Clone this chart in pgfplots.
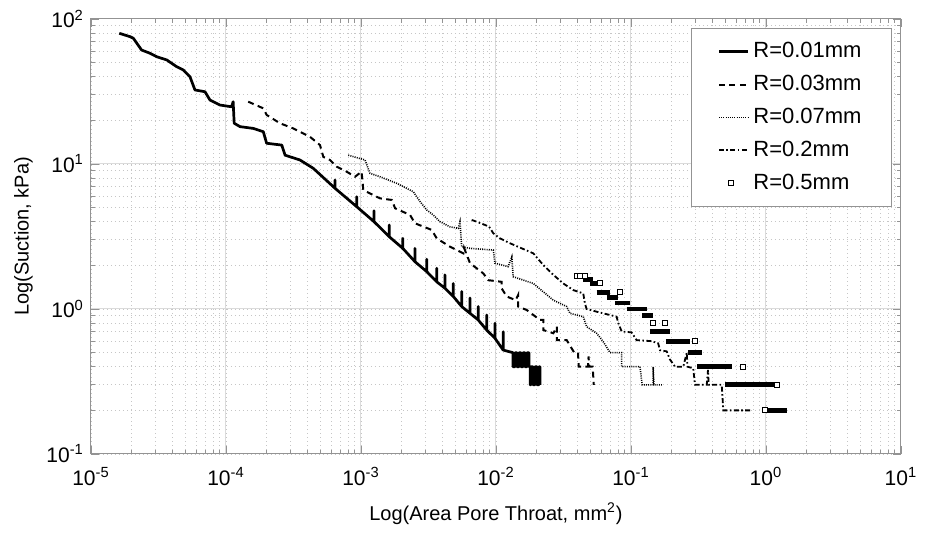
\documentclass[border=0pt]{standalone}
\usepackage{pgfplots}
\pgfplotsset{compat=1.18}
\usepackage{fontspec}
\setmainfont{Liberation Sans}
\usetikzlibrary{calc}

\pgfplotsset{
  shortline/.style={legend image code/.code={\draw[##1] (0pt,0pt) -- (14.5pt,0pt);}},
  sqlegend/.style={legend image code/.code={\draw[black, fill=white, line width=0.5pt] (4.8pt,-1.2pt) rectangle (7.2pt,1.2pt);}},
}

\begin{document}
\begin{tikzpicture}
\begin{axis}[
  xmode=log, ymode=log,
  width=405pt, height=217.5pt, scale only axis,
  xmin=1e-5, xmax=10, ymin=0.1, ymax=100,
  xtick={1e-5,1e-4,1e-3,1e-2,1e-1,1,10},
  xticklabels={10\textsuperscript{-5},10\textsuperscript{-4},10\textsuperscript{-3},10\textsuperscript{-2},10\textsuperscript{-1},10\textsuperscript{0},10\textsuperscript{1}},
  ytick={0.1,1,10,100},
  yticklabels={10\textsuperscript{-1},10\textsuperscript{0},10\textsuperscript{1},10\textsuperscript{2}},
  tick align=inside,
  xtick pos=both, ytick pos=both,
  major tick length=4pt, minor tick length=2.2pt,
  every tick/.style={gray!85, line width=0.4pt},
  axis line style={gray!85, line width=0.5pt},
  grid=both,
  major grid style={gray!28, line width=0.5pt},
  minor grid style={gray!45, line width=0.4pt, dash pattern=on 0.5pt off 1.5pt},
  tick label style={font=\fontsize{10.5}{12}\selectfont, black},
  xticklabel style={yshift=-3pt},
  label style={font=\fontsize{10}{12}\selectfont},
  xlabel={Log(Area Pore Throat, mm\textsuperscript{2})},
  ylabel={Log(Suction, kPa)},
  xlabel style={yshift=-2pt},
  legend style={at={(0.989,0.979)}, anchor=north east, draw=gray!85, fill=white,
    font=\fontsize{11}{12}\selectfont, inner xsep=13pt, inner ysep=5pt,
    row sep=3.2pt, line width=0.5pt},
  legend cell align=left,
  clip=true,
]
\coordinate (bl) at (rel axis cs:0,0);
\coordinate (tr) at (rel axis cs:1,1);

% R = 0.01 mm
\addplot[black, line width=1.35pt, line join=round, shortline] coordinates {
(1.62e-5,79.7) (1.95e-5,75.5) (2.06e-5,73.6) (2.37e-5,61.1) (2.74e-5,58.0)
(3.07e-5,54.9) (3.64e-5,52.2) (4.31e-5,46.9) (4.83e-5,44.5) (5.41e-5,40.0)
(5.89e-5,32.4) (6.99e-5,31.5) (7.61e-5,27.6) (9.03e-5,25.5) (1.10e-4,24.8)
(1.13e-4,26.9) (1.15e-4,19.1) (1.27e-4,18.1) (1.59e-4,17.6) (1.89e-4,16.7)
(2.00e-4,13.9) (2.59e-4,13.5) (2.74e-4,11.5) (3.53e-4,10.66) (4.43e-4,9.34)
(6.42e-4,6.80) (6.42e-4,7.76) (6.42e-4,6.80)
(9.29e-4,5.08) (9.29e-4,5.95) (9.29e-4,5.08)
(1.25e-3,4.00) (1.25e-3,4.76) (1.25e-3,4.00)
(1.62e-3,3.15) (1.62e-3,3.80) (1.62e-3,3.15)
(2.04e-3,2.62) (2.04e-3,3.07) (2.04e-3,2.62)
(2.51e-3,2.12) (2.51e-3,2.62) (2.51e-3,2.12)
(3.07e-3,1.81) (3.07e-3,2.20) (3.07e-3,1.81)
(3.64e-3,1.54) (3.64e-3,1.91) (3.64e-3,1.54)
(4.19e-3,1.39) (4.19e-3,1.72) (4.19e-3,1.39)
(4.83e-3,1.22) (4.83e-3,1.50) (4.83e-3,1.22)
(5.57e-3,1.04) (5.57e-3,1.32) (5.57e-3,1.04)
(6.42e-3,0.934) (6.42e-3,1.19) (6.42e-3,0.934)
(7.39e-3,0.84) (7.39e-3,1.04) (7.39e-3,0.84)
(8.53e-3,0.716) (8.53e-3,0.909) (8.53e-3,0.716)
(9.83e-3,0.628) (9.83e-3,0.797) (9.83e-3,0.628)
(1.13e-2,0.521) (1.13e-2,0.697) (1.13e-2,0.521)
(1.336e-2,0.5) (1.336e-2,0.4) (1.382e-2,0.4) (1.382e-2,0.5) (1.430e-2,0.5)
(1.430e-2,0.4) (1.481e-2,0.4) (1.481e-2,0.5) (1.532e-2,0.5) (1.532e-2,0.4)
(1.585e-2,0.4) (1.585e-2,0.5) (1.640e-2,0.5) (1.640e-2,0.4) (1.697e-2,0.4)
(1.697e-2,0.5) (1.756e-2,0.5) (1.756e-2,0.4) (1.79e-2,0.4) (1.79e-2,0.3)
(1.817e-2,0.3) (1.817e-2,0.4) (1.879e-2,0.4) (1.879e-2,0.3) (1.945e-2,0.3)
(1.945e-2,0.4) (2.012e-2,0.4) (2.012e-2,0.3) (2.082e-2,0.3) (2.082e-2,0.4)
(2.117e-2,0.4) (2.117e-2,0.3)
};
\addlegendentry{R=0.01mm}

% R = 0.03 mm
\addplot[black, line width=1pt, dash pattern=on 3pt off 2.2pt, shortline] coordinates {
(1.46e-4,26.9) (1.89e-4,24.2) (2.00e-4,21.8) (2.51e-4,19.1) (3.15e-4,17.6)
(4.19e-4,15.4) (4.97e-4,13.5) (5.26e-4,11.2) (5.89e-4,10.66) (6.61e-4,9.58)
(7.83e-4,8.85) (9.03e-4,8.17) (1.01e-3,8.85) (1.04e-3,6.62) (1.23e-3,6.11)
(1.38e-3,5.80) (1.69e-3,5.65) (1.79e-3,4.95) (2.31e-3,4.45) (2.51e-3,3.90)
(3.34e-3,3.51) (3.64e-3,3.07) (4.56e-3,2.69) (5.73e-3,2.42) (5.80e-3,2.64)
(6.42e-3,2.07) (8.05e-3,1.76) (8.77e-3,1.58) (1.10e-2,1.54) (1.10e-2,1.39)
(1.20e-2,1.22) (1.40e-2,1.15) (1.46e-2,1.25) (1.46e-2,1.04) (1.69e-2,0.984)
(2.12e-2,0.84) (2.24e-2,0.84) (2.24e-2,0.716) (2.66e-2,0.68) (2.82e-2,0.755)
(2.82e-2,0.611) (3.34e-2,0.61) (3.80e-2,0.5) (4.05e-2,0.5) (4.10e-2,0.4)
(4.80e-2,0.4) (4.85e-2,0.47) (4.90e-2,0.4) (5.20e-2,0.4) (5.30e-2,0.3)
};
\addlegendentry{R=0.03mm}

% R = 0.07 mm
\addplot[black, line width=0.8pt, dash pattern=on 0.5pt off 0.6pt, shortline] coordinates {
(8.05e-4,11.5) (1.07e-3,10.66) (1.166e-3,8.63) (1.38e-3,8.17) (1.84e-3,7.36)
(2.44e-3,6.44) (2.74e-3,5.50) (3.07e-3,4.82) (3.43e-3,4.45) (3.85e-3,4.00)
(4.56e-3,3.69) (5.26e-3,3.60) (5.41e-3,4.00) (5.57e-3,2.69) (6.42e-3,2.62)
(9.55e-3,2.55) (9.83e-3,2.07) (1.23e-2,1.96) (1.31e-2,2.29) (1.34e-2,1.67)
(1.89e-2,1.50) (2.66e-2,1.15) (3.34e-2,1.04) (3.53e-2,0.934) (4.43e-2,0.885)
(4.69e-2,0.755) (5.57e-2,0.68) (6.23e-2,0.595) (6.99e-2,0.5) (8.53e-2,0.5)
(8.53e-2,0.4) (0.1166,0.4) (0.121,0.3) (0.146,0.3) (0.146,0.4) (0.148,0.3)
(0.169,0.3)
};
\addlegendentry{R=0.07mm}

% R = 0.2 mm
\addplot[black, line width=0.9pt, dash pattern=on 2.5pt off 1.2pt on 0.8pt off 1.2pt, shortline] coordinates {
(6.61e-3,4.11) (7.19e-3,4.00) (8.29e-3,3.80) (8.90e-3,3.69) (9.55e-3,3.33)
(1.07e-2,3.07) (1.27e-2,2.84) (1.89e-2,2.42) (2.24e-2,2.01) (2.66e-2,1.72)
(3.15e-2,1.50) (3.74e-2,1.35) (4.43e-2,1.28) (4.56e-2,1.09) (4.69e-2,1.0)
(5.57e-2,0.958) (6.99e-2,0.909) (7.83e-2,0.885) (8.05e-2,0.80) (8.53e-2,0.70)
(0.101,0.69) (0.110,0.61) (0.142,0.60) (0.159,0.58) (0.164,0.52) (0.184,0.51)
(0.194,0.45) (0.212,0.40) (0.244,0.40) (0.259,0.5) (0.262,0.40) (0.289,0.39)
(0.298,0.30) (0.364,0.30) (0.372,0.38) (0.376,0.30) (0.47,0.30) (0.483,0.20)
(0.783,0.20)
};
\addlegendentry{R=0.2mm}

% R = 0.5 mm: runs of overlapping squares
\addplot[black, line width=2.4pt, unbounded coords=jump, forget plot] coordinates {
(0.0441,1.6) (0.0523,1.6) (nan,nan)
(0.0497,1.5) (0.0589,1.5) (nan,nan)
(0.0557,1.3) (0.0699,1.3) (nan,nan)
(0.0661,1.2) (0.0805,1.2) (nan,nan)
(0.0761,1.1) (0.0984,1.1) (nan,nan)
(0.0929,1.0) (0.1307,1.0) (nan,nan)
(0.121,0.9) (0.146,0.9) (nan,nan)
(0.1382,0.7) (0.1945,0.7) (nan,nan)
(0.1816,0.6) (0.2735,0.6) (nan,nan)
(0.2644,0.5) (0.3357,0.5) (nan,nan)
(0.3083,0.4) (0.560,0.4) (nan,nan)
(0.497,0.3) (1.166,0.3) (nan,nan)
(0.983,0.2) (1.423,0.2)
};
\addplot[only marks, mark=square*, mark size=1.25pt, black, mark options={fill=white, line width=0.5pt}, sqlegend] coordinates {
(0.0396,1.7) (0.0420,1.7) (0.0456,1.7) (0.0589,1.5) (0.0829,1.3)
(0.146,0.8) (0.1786,0.8) (0.298,0.6) (0.679,0.4) (1.206,0.3) (0.983,0.2)
};
\addlegendentry{R=0.5mm}
\end{axis}
\pgfresetboundingbox
\path ($(bl)+(-45.5pt,-40.5pt)$) rectangle ($(tr)+(13pt,9.5pt)$);
\end{tikzpicture}
\end{document}
